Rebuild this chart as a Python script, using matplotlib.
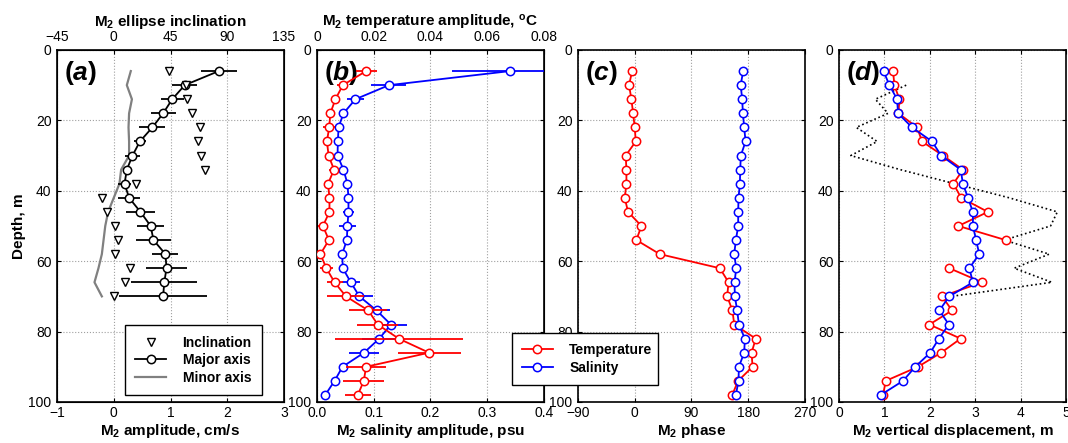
import numpy as np
import matplotlib
matplotlib.use("Agg")
import matplotlib.pyplot as plt
from matplotlib.lines import Line2D

plt.rcParams['font.family'] = ['Liberation Sans', 'DejaVu Sans']
plt.rcParams['mathtext.fontset'] = 'custom'
plt.rcParams['mathtext.rm'] = 'Liberation Sans'
plt.rcParams['mathtext.bf'] = 'Liberation Sans:bold'
plt.rcParams['mathtext.it'] = 'Liberation Sans:italic'
plt.rcParams['mathtext.bfit'] = 'Liberation Sans:bold:italic'
plt.rcParams['xtick.direction'] = 'in'
plt.rcParams['ytick.direction'] = 'in'
plt.rcParams['xtick.labelsize'] = 10
plt.rcParams['ytick.labelsize'] = 10

# ---------------- data ----------------
# panel (a): current ellipse
depth_a = [6, 10, 14, 18, 22, 26, 30, 34, 38, 42, 46, 50, 54, 58, 62, 66, 70]
major = [1.85, 1.25, 1.03, 0.87, 0.68, 0.46, 0.33, 0.23, 0.19, 0.27, 0.47, 0.65, 0.70, 0.91, 0.93, 0.89, 0.87]
major_err = [0.32, 0.22, 0.20, 0.22, 0.23, 0.10, 0.14, 0.07, 0.12, 0.19, 0.26, 0.24, 0.31, 0.23, 0.36, 0.58, 0.78]
minor = [0.30, 0.23, 0.32, 0.27, 0.26, 0.27, 0.27, 0.13, 0.10, 0.0, -0.10, -0.15, -0.18, -0.21, -0.27, -0.34, -0.21]
incl = [44, 57, 58, 62, 68.5, 67, 69, 72.5, 18, -9, -5.5, 1, 3, 1, 12.7, 8.7, 0]

# panels (b)-(d): temperature and salinity
depth_b = [6, 10, 14, 18, 22, 26, 30, 34, 38, 42, 46, 50, 54, 58, 62, 66, 70, 74, 78, 82, 86, 90, 94, 98]
temp_amp = [0.0173, 0.0091, 0.0065, 0.0047, 0.0043, 0.0035, 0.0041, 0.0060, 0.0039, 0.0044, 0.0044, 0.0021,
            0.0042, 0.0012, 0.0033, 0.0062, 0.0102, 0.0181, 0.0214, 0.0288, 0.0395, 0.0173, 0.0165, 0.0144]
temp_err = [0.0037, 0.0020, 0.0007, 0.0006, 0.0021, 0.0006, 0.0006, 0.0016, 0.0015, 0.0014, 0.0014, 0.0019,
            0.0009, 0.0012, 0.0023, 0.0028, 0.0065, 0.0067, 0.0072, 0.0226, 0.0111, 0.0072, 0.0072, 0.0047]
sal_amp = [0.340, 0.1267, 0.0677, 0.0467, 0.038, 0.0368, 0.0362, 0.0467, 0.0537, 0.0555, 0.0555, 0.0537,
           0.0526, 0.0444, 0.0455, 0.0596, 0.0747, 0.1051, 0.1302, 0.1098, 0.0829, 0.045, 0.031, 0.0146]
sal_err = [0.102, 0.031, 0.015, 0.006, 0.008, 0.003, 0.003, 0.007, 0.008, 0.008, 0.009, 0.015,
           0.007, 0.005, 0.006, 0.016, 0.024, 0.024, 0.028, 0.030, 0.027, 0.004, 0.004, 0.0]
temp_phase = [-4.2, -9, -5.3, -2.6, 0, 1.6, -14.3, -13.2, -13.2, -15.9, -10.6, 10.6, 2.6, 39.7, 135, 148.8,
              146.6, 155, 157.8, 192, 185.3, 186.9, 164, 154.6]
sal_phase = [172, 168, 170.5, 171.5, 173.6, 175.8, 168.3, 167.3, 166.8, 164.6, 164.1, 164.1, 160.4, 157.8,
             161, 158.3, 158.8, 162.5, 165.2, 174.7, 173.6, 165.2, 164.6, 160.4]
temp_disp = [1.19, 1.22, 1.33, 1.31, 1.72, 1.83, 2.29, 2.73, 2.52, 2.69, 3.28, 2.63, 3.67, np.nan, 2.43, 3.15,
             2.27, 2.49, 1.99, 2.68, 2.25, 1.74, 1.03, 0.97]
sal_disp = [0.98, 1.11, 1.28, 1.30, 1.61, 2.05, 2.25, 2.68, 2.73, 2.84, 2.95, 2.95, 3.02, 3.09, 2.87, 2.95,
            2.43, 2.21, 2.42, 2.20, 2.01, 1.68, 1.41, 0.92]
# dotted curve in (d)
depth_dot = [10, 14, 18, 22, 26, 30, 34, 38, 42, 46, 50, 54, 58, 62, 66, 70]
disp_dot = [1.48, 0.80, 1.08, 0.38, 0.84, 0.26, 1.35, 2.55, 3.75, 4.81, 4.66, 3.64, 4.63, 3.86, 4.69, 2.47]

# ---------------- figure ----------------
fig = plt.figure(figsize=(10.68, 4.43), dpi=100)
lefts = [0.0534, 0.2968, 0.5412, 0.7856]
axes = [fig.add_axes([l, 0.0926, 0.2125, 0.7946]) for l in lefts]

def base_axis(ax, xlim, xticks, xlabel, label):
    ax.set_xlim(xlim)
    ax.set_xticks(xticks)
    ax.set_ylim(100, 0)
    ax.set_yticks([0, 20, 40, 60, 80, 100])
    ax.grid(True, color='#a0a0a0', linestyle=':', linewidth=0.8)
    ax.set_axisbelow(True)
    ax.tick_params(right=True, length=3, width=0.8)
    ax.tick_params(axis='x', pad=3)
    ax.tick_params(axis='y', pad=4)
    ax.set_xlabel(xlabel, fontsize=11, fontweight='bold', labelpad=1)
    for s in ax.spines.values():
        s.set_linewidth(1.2)
    ax.text(0.03, 0.975, label, transform=ax.transAxes, fontsize=19, fontweight='bold',
            va='top', ha='left', zorder=10)

def add_legend(handles, labels, box):
    leg = fig.legend(handles, labels, loc='lower left', bbox_to_anchor=box, mode='expand',
                     borderaxespad=0, fancybox=False, edgecolor='black', framealpha=1,
                     prop={'weight': 'bold', 'size': 10}, handlelength=2.2, borderpad=0.75,
                     labelspacing=0.25, handletextpad=1.2)
    leg.get_frame().set_linewidth(1.0)
    return leg

red = '#ff0000'
blue = '#0000ff'
mk = dict(marker='o', markersize=6, markerfacecolor='white', markeredgewidth=1.1)

# (a)
ax = axes[0]
base_axis(ax, (-1, 3), [-1, 0, 1, 2, 3], r'M$_\mathbf{2}$ amplitude, cm/s', r'($\mathbfit{a}$)')
ax.set_ylabel('Depth, m', fontsize=11, fontweight='bold', labelpad=2)
ax.plot(minor, depth_a, color='#808080', linewidth=1.6, zorder=2)
ax.errorbar(major, depth_a, xerr=major_err, color='black', linewidth=1.3, elinewidth=1.3,
            capsize=0, markeredgecolor='black', zorder=3, **mk)
axt = ax.twiny()
axt.set_xlim(-45, 135)
axt.set_xticks([-45, 0, 45, 90, 135])
axt.tick_params(length=3, width=0.8, pad=4)
axt.set_xlabel(r'M$_\mathbf{2}$ ellipse inclination', fontsize=11, fontweight='bold', labelpad=3)
axt.plot(incl, depth_a, linestyle='none', marker='v', markersize=6, markerfacecolor='white',
         markeredgecolor='black', markeredgewidth=1.0, zorder=4)
h_a = [Line2D([], [], linestyle='none', marker='v', markersize=6, markerfacecolor='white',
              markeredgecolor='black'),
       Line2D([], [], color='black', linewidth=1.3, markeredgecolor='black', **mk),
       Line2D([], [], color='#808080', linewidth=1.6)]
add_legend(h_a, ['Inclination', 'Major axis', 'Minor axis'], (0.117, 0.108, 0.128, 0.156))

# (b)
ax = axes[1]
base_axis(ax, (0, 0.4), [0, 0.1, 0.2, 0.3, 0.4], r'M$_\mathbf{2}$ salinity amplitude, psu',
          r'($\mathbfit{b}$)')
ax.errorbar(sal_amp, depth_b, xerr=sal_err, color=blue, linewidth=1.3, elinewidth=1.3, capsize=0,
            markeredgecolor=blue, zorder=3, **mk)
axt = ax.twiny()
axt.set_xlim(0, 0.08)
axt.set_xticks([0, 0.02, 0.04, 0.06, 0.08])
axt.set_xticklabels(['0', '0.02', '0.04', '0.06', '0.08'])
axt.tick_params(length=3, width=0.8, pad=4)
axt.set_xlabel(r'M$_\mathbf{2}$ temperature amplitude, $^\mathbf{o}$C', fontsize=11,
               fontweight='bold', labelpad=3)
axt.errorbar(temp_amp, depth_b, xerr=temp_err, color=red, linewidth=1.3, elinewidth=1.3, capsize=0,
             markeredgecolor=red, zorder=3, **mk)

# (c)
ax = axes[2]
base_axis(ax, (-90, 270), [-90, 0, 90, 180, 270], r'M$_\mathbf{2}$ phase', r'($\mathbfit{c}$)')
ax.tick_params(top=True)
ax.plot(temp_phase, depth_b, color=red, linewidth=1.3, markeredgecolor=red, zorder=3, **mk)
ax.plot(sal_phase, depth_b, color=blue, linewidth=1.3, markeredgecolor=blue, zorder=3, **mk)
h_c = [Line2D([], [], color=red, linewidth=1.3, markeredgecolor=red, **mk),
       Line2D([], [], color=blue, linewidth=1.3, markeredgecolor=blue, **mk)]
add_legend(h_c, ['Temperature', 'Salinity'], (0.479, 0.131, 0.137, 0.099))

# (d)
ax = axes[3]
base_axis(ax, (0, 5), [0, 1, 2, 3, 4, 5], r'M$_\mathbf{2}$ vertical displacement, m', r'($\mathbfit{d}$)')
ax.tick_params(top=True)
ax.plot(disp_dot, depth_dot, color='black', linestyle=':', linewidth=1.2, zorder=2)
ax.plot(temp_disp, depth_b, color=red, linewidth=1.3, markeredgecolor=red, zorder=3, **mk)
ax.plot(sal_disp, depth_b, color=blue, linewidth=1.3, markeredgecolor=blue, zorder=3, **mk)

fig.savefig('out.png', dpi=100)
